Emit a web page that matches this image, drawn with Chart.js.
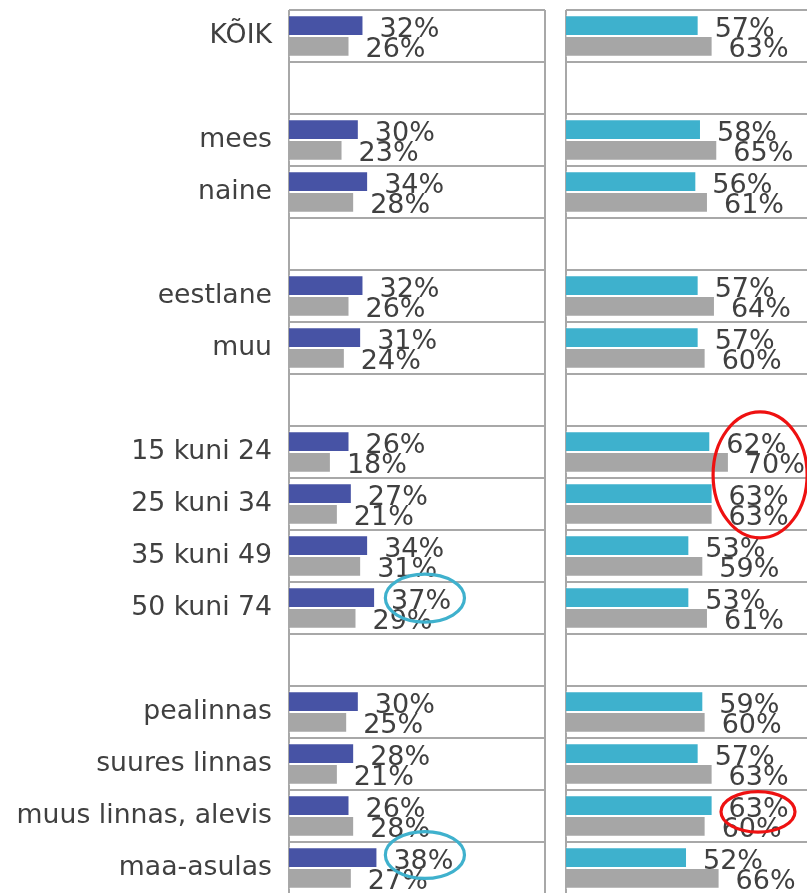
<!DOCTYPE html>
<html>
<head>
<meta charset="utf-8">
<script src="https://cdn.jsdelivr.net/npm/chart.js@4/dist/chart.umd.min.js"></script>
<style>
  html, body { margin: 0; padding: 0; background: #ffffff; overflow: hidden; width: 807px; height: 893px; }
  #wrapL { position: absolute; left: 0; top: 0; width: 560px; height: 894px; }
  #wrapR { position: absolute; left: 556px; top: 0; width: 266px; height: 894px; }
</style>
</head>
<body>
<div id="wrapL"><canvas id="left"></canvas></div>
<div id="wrapR"><canvas id="right"></canvas></div>
<script>
// ---- data ----
const categories = ["KÕIK", "", "mees", "naine", "", "eestlane", "muu", "",
  "15 kuni 24", "25 kuni 34", "35 kuni 49", "50 kuni 74", "",
  "pealinnas", "suures linnas", "muus linnas, alevis", "maa-asulas"];
const leftSeriesA  = [32, null, 30, 34, null, 32, 31, null, 26, 27, 34, 37, null, 30, 28, 26, 38];
const leftSeriesB  = [26, null, 23, 28, null, 26, 24, null, 18, 21, 31, 29, null, 25, 21, 28, 27];
const rightSeriesA = [57, null, 58, 56, null, 57, 57, null, 62, 63, 53, 53, null, 59, 57, 63, 52];
const rightSeriesB = [63, null, 65, 61, null, 64, 60, null, 70, 63, 59, 61, null, 60, 63, 60, 66];
const axisMax = 110;

// highlight rings (x in % units, y in category units)
const leftRings = [
  { x: 58.4, y: 10.81, rx: 17, ry: 0.46, color: "#3fb1cd" },
  { x: 58.4, y: 15.75, rx: 17, ry: 0.45, color: "#3fb1cd" }
];
const rightRings = [
  { x: 83.4, y: 8.44, rx: 20.2, ry: 1.21, color: "#ee1111" },
  { x: 82.5, y: 14.92, rx: 15.9, ry: 0.39, color: "#ee1111" }
];

const COL_BLUE = "#4753a5", COL_GRAY = "#a6a6a6", COL_TEAL = "#3eb1cd";
const GRID = "#a8a8a8";

const labelPlugin = {
  id: "valueLabels",
  afterDatasetsDraw(chart) {
    const ctx = chart.ctx;
    ctx.save();
    ctx.font = "27px 'DejaVu Sans'";
    ctx.fillStyle = "#404040";
    ctx.textAlign = "left";
    ctx.textBaseline = "middle";
    chart.data.datasets.forEach((ds, di) => {
      const meta = chart.getDatasetMeta(di);
      meta.data.forEach((el, i) => {
        const v = ds.data[i];
        if (v === null || v === undefined) return;
        ctx.fillText(v + "%", el.x + 16, el.y + 4);
      });
    });
    ctx.restore();
  }
};

const framePlugin = {
  id: "frame",
  beforeDatasetsDraw(chart) {
    const a = chart.chartArea, ctx = chart.ctx;
    ctx.save();
    ctx.strokeStyle = GRID;
    ctx.lineWidth = 2;
    ctx.beginPath();
    ctx.moveTo(a.left, a.top); ctx.lineTo(a.left, a.bottom);
    ctx.moveTo(a.right, a.top); ctx.lineTo(a.right, a.bottom);
    ctx.stroke();
    ctx.restore();
  }
};

const ringPlugin = {
  id: "rings",
  afterDraw(chart, args, opts) {
    const rings = opts.rings || [];
    const xs = chart.scales.x, ys = chart.scales.y, ctx = chart.ctx;
    ctx.save();
    ctx.lineWidth = 3.2;
    rings.forEach(r => {
      const cx = xs.getPixelForValue(r.x);
      const cy = ys.getPixelForValue(r.y);
      const rx = Math.abs(xs.getPixelForValue(r.x + r.rx) - cx);
      const ry = Math.abs(ys.getPixelForValue(r.y + r.ry) - cy);
      ctx.strokeStyle = r.color;
      ctx.beginPath();
      ctx.ellipse(cx, cy, rx, ry, 0, 0, Math.PI * 2);
      ctx.stroke();
    });
    ctx.restore();
  }
};

function makeChart(id, a, b, colA, showLabels, yWidth, padRight, rings) {
  return new Chart(document.getElementById(id), {
    type: "bar",
    data: {
      labels: categories,
      datasets: [
        { data: a, backgroundColor: colA, borderColor: "rgba(255,255,255,0.55)", borderWidth: 1,
          categoryPercentage: 0.8, barPercentage: 1.0 },
        { data: b, backgroundColor: COL_GRAY, borderColor: "rgba(255,255,255,0.55)", borderWidth: 1,
          categoryPercentage: 0.8, barPercentage: 1.0 }
      ]
    },
    options: {
      indexAxis: "y",
      responsive: true,
      maintainAspectRatio: false,
      animation: false,
      layout: { padding: { top: 10, right: padRight, bottom: 0, left: 0 } },
      plugins: { legend: { display: false }, tooltip: { enabled: false }, rings: { rings: rings } },
      scales: {
        x: { display: false, min: 0, max: axisMax },
        y: {
          grid: { offset: true, color: GRID, lineWidth: 2, drawTicks: false },
          border: { display: false },
          ticks: { display: showLabels, padding: 17, color: "#404040",
                   font: { family: "'DejaVu Sans'", size: 26.7 } },
          afterFit(axis) {
            axis.width = yWidth;
            axis.paddingTop = 0; axis.paddingBottom = 0;
            axis.paddingLeft = 0; axis.paddingRight = 0;
          }
        }
      }
    },
    plugins: [framePlugin, labelPlugin, ringPlugin]
  });
}

makeChart("left", leftSeriesA, leftSeriesB, COL_BLUE, true, 289, 15, leftRings);
makeChart("right", rightSeriesA, rightSeriesB, COL_TEAL, false, 10, 0, rightRings);
</script>
</body>
</html>
